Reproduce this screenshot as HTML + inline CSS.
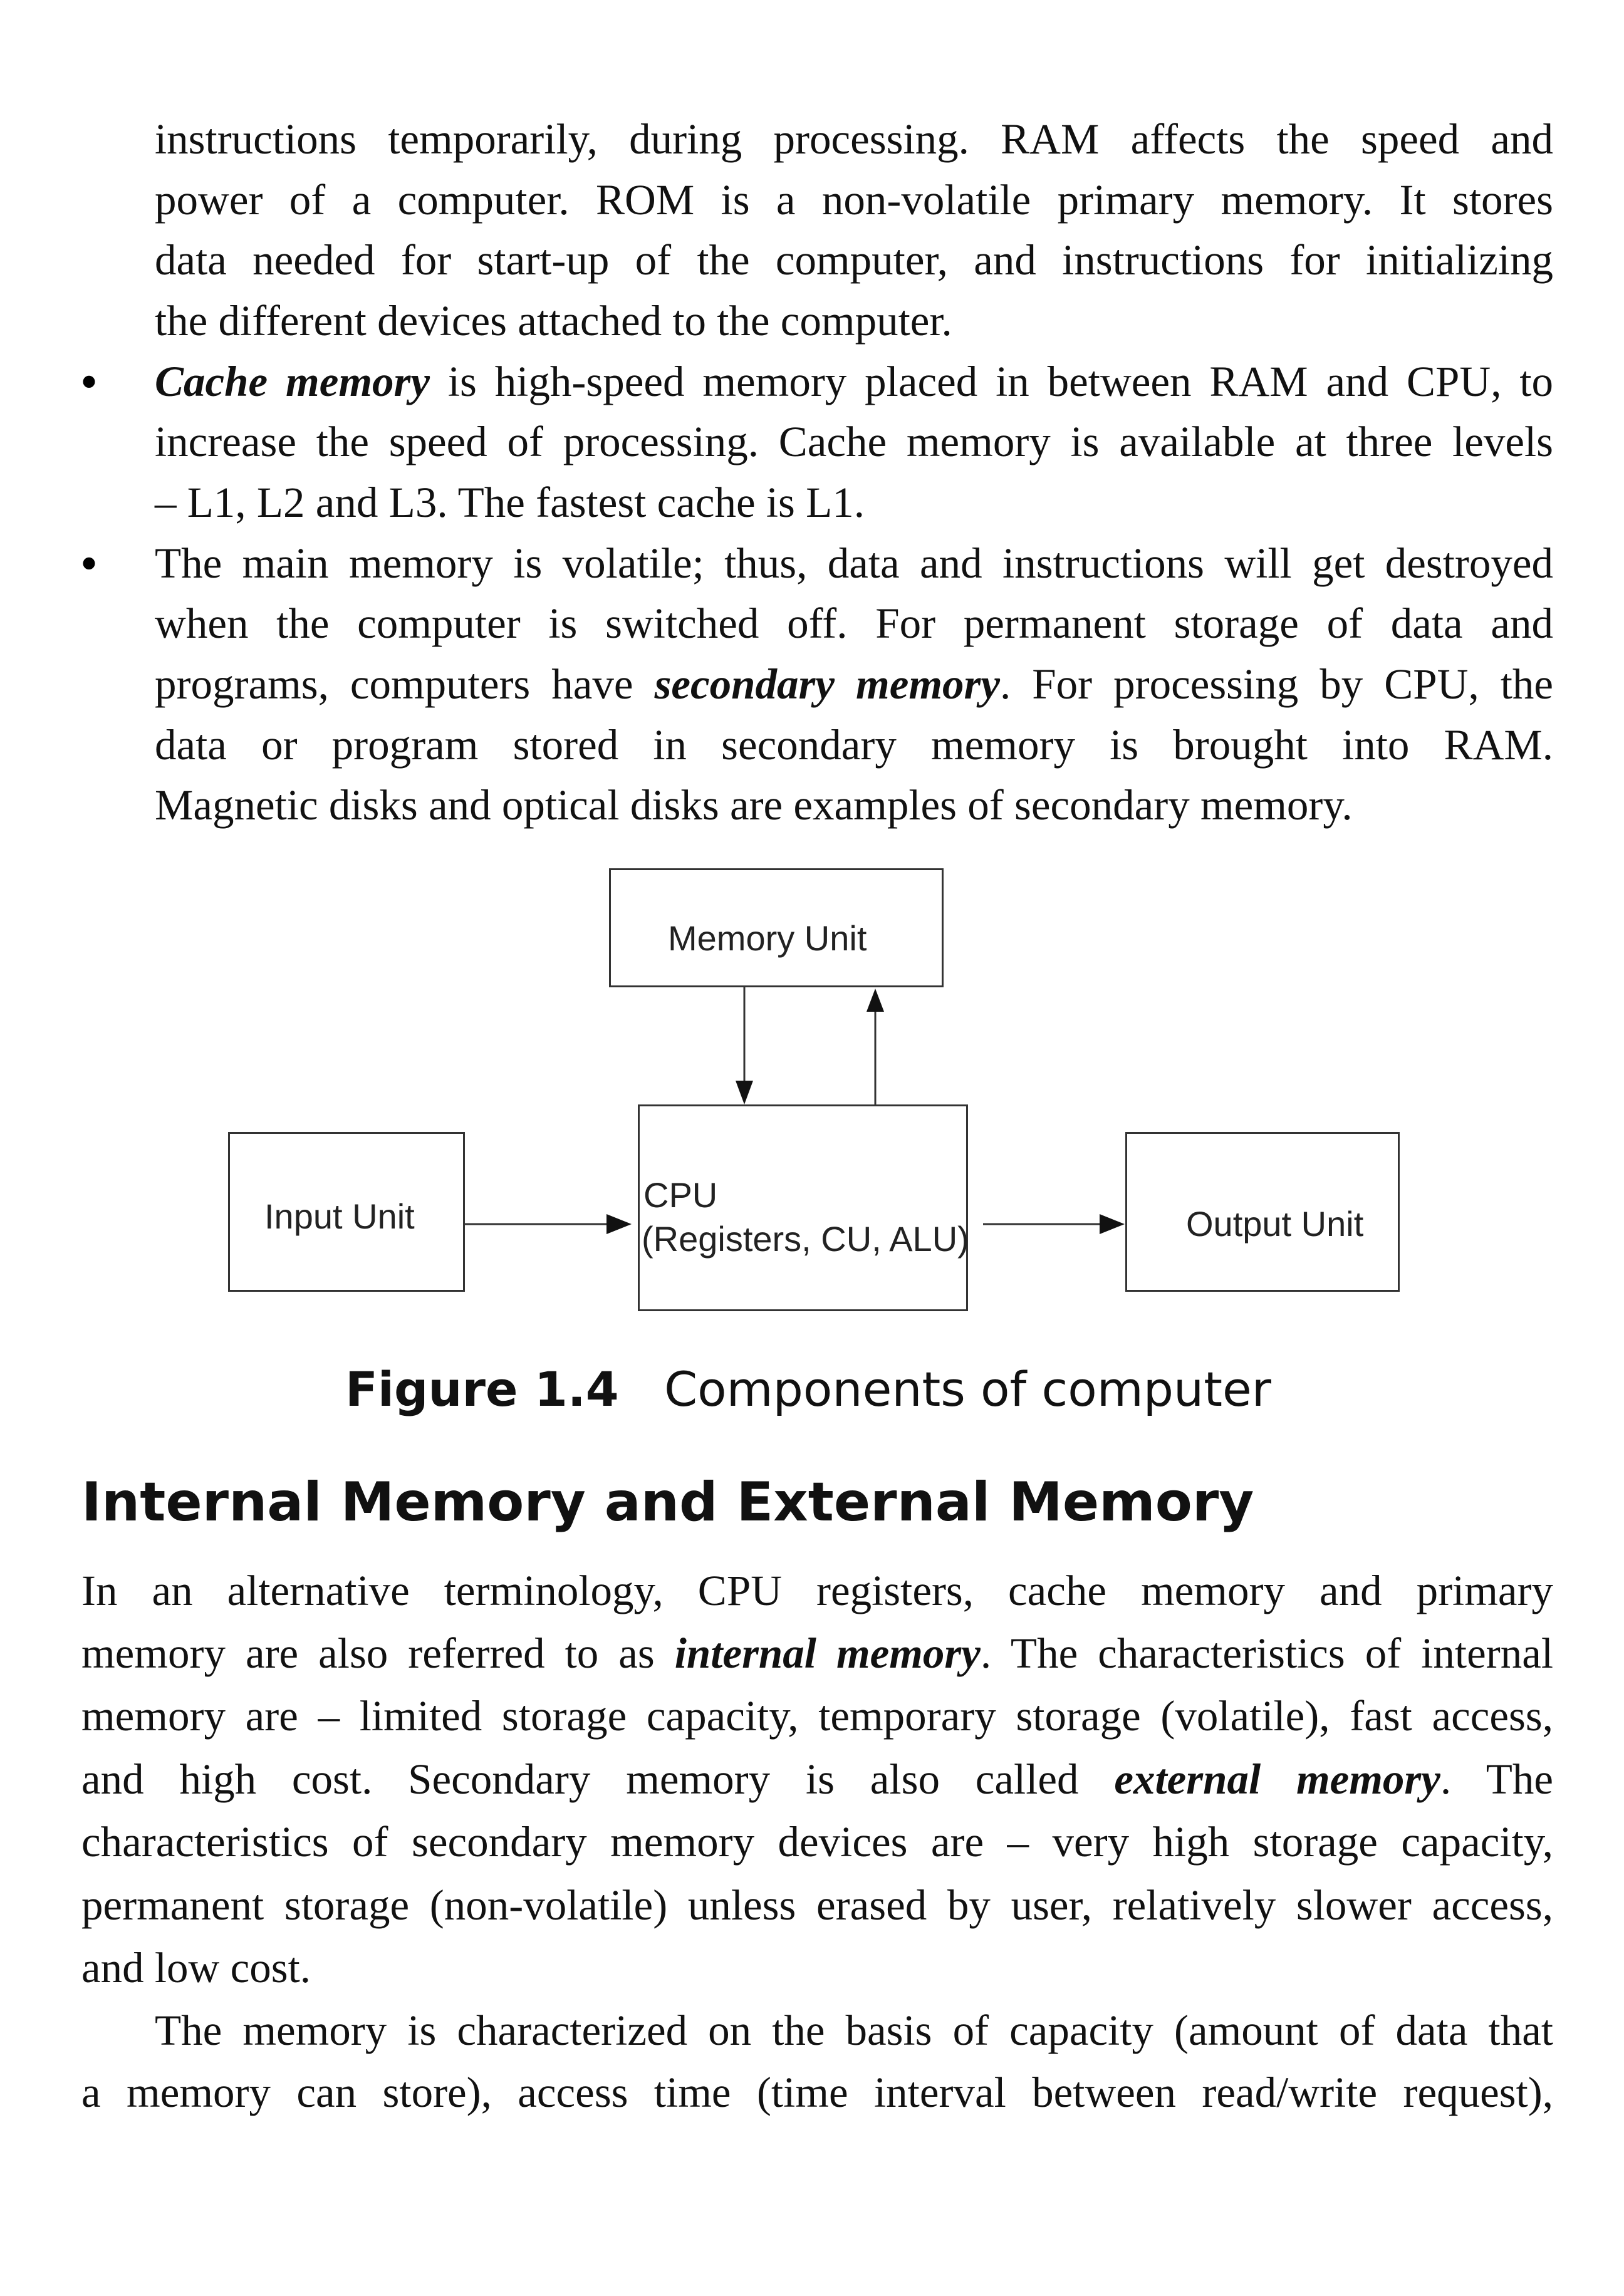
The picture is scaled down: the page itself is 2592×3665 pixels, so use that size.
<!DOCTYPE html>
<html><head><meta charset="utf-8"><style>
body{margin:0;background:#fff;}
#p{position:relative;width:2592px;height:3665px;overflow:hidden;background:#fff;}
.l{position:absolute;font-family:"Liberation Serif",serif;font-size:69px;color:#111;white-space:nowrap;line-height:1;}
.j{text-align:justify;text-align-last:justify;white-space:normal;}
.a{left:247px;width:2232px;}
.b{left:130px;width:2349px;}
.bul{position:absolute;left:128px;font-family:"Liberation Serif",serif;font-size:80px;line-height:1;}
.box{position:absolute;border:3px solid #333;box-sizing:border-box;background:#fff;}
.dt{position:absolute;font-family:"Liberation Sans",sans-serif;font-size:56px;color:#222;line-height:1;white-space:nowrap;}
</style></head><body><div id="p">
<div class="l a j" style="top:188px">instructions temporarily, during processing. RAM affects the speed and</div>
<div class="l a j" style="top:285px">power of a computer. ROM is a non-volatile primary memory. It stores</div>
<div class="l a j" style="top:381px">data needed for start-up of the computer, and instructions for initializing</div>
<div class="l a" style="top:478px">the different devices attached to the computer.</div>
<div class="bul" style="top:570px">•</div>
<div class="l a j" style="top:575px"><b><i>Cache memory</i></b> is high-speed memory placed in between RAM and CPU, to</div>
<div class="l a j" style="top:671px">increase the speed of processing. Cache memory is available at three levels</div>
<div class="l a" style="top:768px">– L1, L2 and L3. The fastest cache is L1.</div>
<div class="bul" style="top:860px">•</div>
<div class="l a j" style="top:865px">The main memory is volatile; thus, data and instructions will get destroyed</div>
<div class="l a j" style="top:961px">when the computer is switched off. For permanent storage of data and</div>
<div class="l a j" style="top:1058px">programs, computers have <b><i>secondary memory</i></b>. For processing by CPU, the</div>
<div class="l a j" style="top:1155px">data or program stored in secondary memory is brought into RAM.</div>
<div class="l a" style="top:1251px">Magnetic disks and optical disks are examples of secondary memory.</div>

<div class="box" style="left:972px;top:1386px;width:534px;height:190px"></div>
<div class="box" style="left:1018px;top:1763px;width:527px;height:330px"></div>
<div class="box" style="left:364px;top:1807px;width:378px;height:255px"></div>
<div class="box" style="left:1796px;top:1807px;width:438px;height:255px"></div>
<svg style="position:absolute;left:0;top:0" width="2592" height="3665">
<g stroke="#333" stroke-width="3" fill="#111">
<line x1="1188" y1="1576" x2="1188" y2="1730"/>
<polygon points="1174,1725 1202,1725 1188,1763" stroke="none"/>
<line x1="1397" y1="1763" x2="1397" y2="1610"/>
<polygon points="1383,1615 1411,1615 1397,1578" stroke="none"/>
<line x1="742" y1="1954" x2="975" y2="1954"/>
<polygon points="968,1938 968,1970 1008,1954" stroke="none"/>
<line x1="1569" y1="1954" x2="1760" y2="1954"/>
<polygon points="1755,1938 1755,1970 1795,1954" stroke="none"/>
</g></svg>
<div class="dt" style="left:1066px;top:1470px">Memory Unit</div>
<div class="dt" style="left:422px;top:1914px">Input Unit</div>
<div class="dt" style="left:1893px;top:1926px">Output Unit</div>
<div class="dt" style="left:1027px;top:1880px">CPU</div>
<div class="dt" style="left:1024px;top:1950px">(Registers, CU, ALU)</div>

<div style="position:absolute;left:551px;top:2180px;font-family:'DejaVu Sans',sans-serif;font-size:76px;line-height:1;white-space:nowrap;color:#111"><b>Figure 1.4</b>&nbsp;&nbsp; Components of computer</div>
<div style="position:absolute;left:130px;top:2355px;font-family:'DejaVu Sans',sans-serif;font-weight:bold;font-size:86px;line-height:1;white-space:nowrap;color:#111">Internal Memory and External Memory</div>

<div class="l b j" style="top:2505px">In an alternative terminology, CPU registers, cache memory and primary</div>
<div class="l b j" style="top:2605px">memory are also referred to as <b><i>internal memory</i></b>. The characteristics of internal</div>
<div class="l b j" style="top:2705px">memory are – limited storage capacity, temporary storage (volatile), fast access,</div>
<div class="l b j" style="top:2806px">and high cost. Secondary memory is also called <b><i>external memory</i></b>. The</div>
<div class="l b j" style="top:2906px">characteristics of secondary memory devices are – very high storage capacity,</div>
<div class="l b j" style="top:3007px">permanent storage (non-volatile) unless erased by user, relatively slower access,</div>
<div class="l b" style="top:3107px">and low cost.</div>
<div class="l a j" style="top:3207px">The memory is characterized on the basis of capacity (amount of data that</div>
<div class="l b j" style="top:3306px">a memory can store), access time (time interval between read/write request),</div>
</div></body></html>
